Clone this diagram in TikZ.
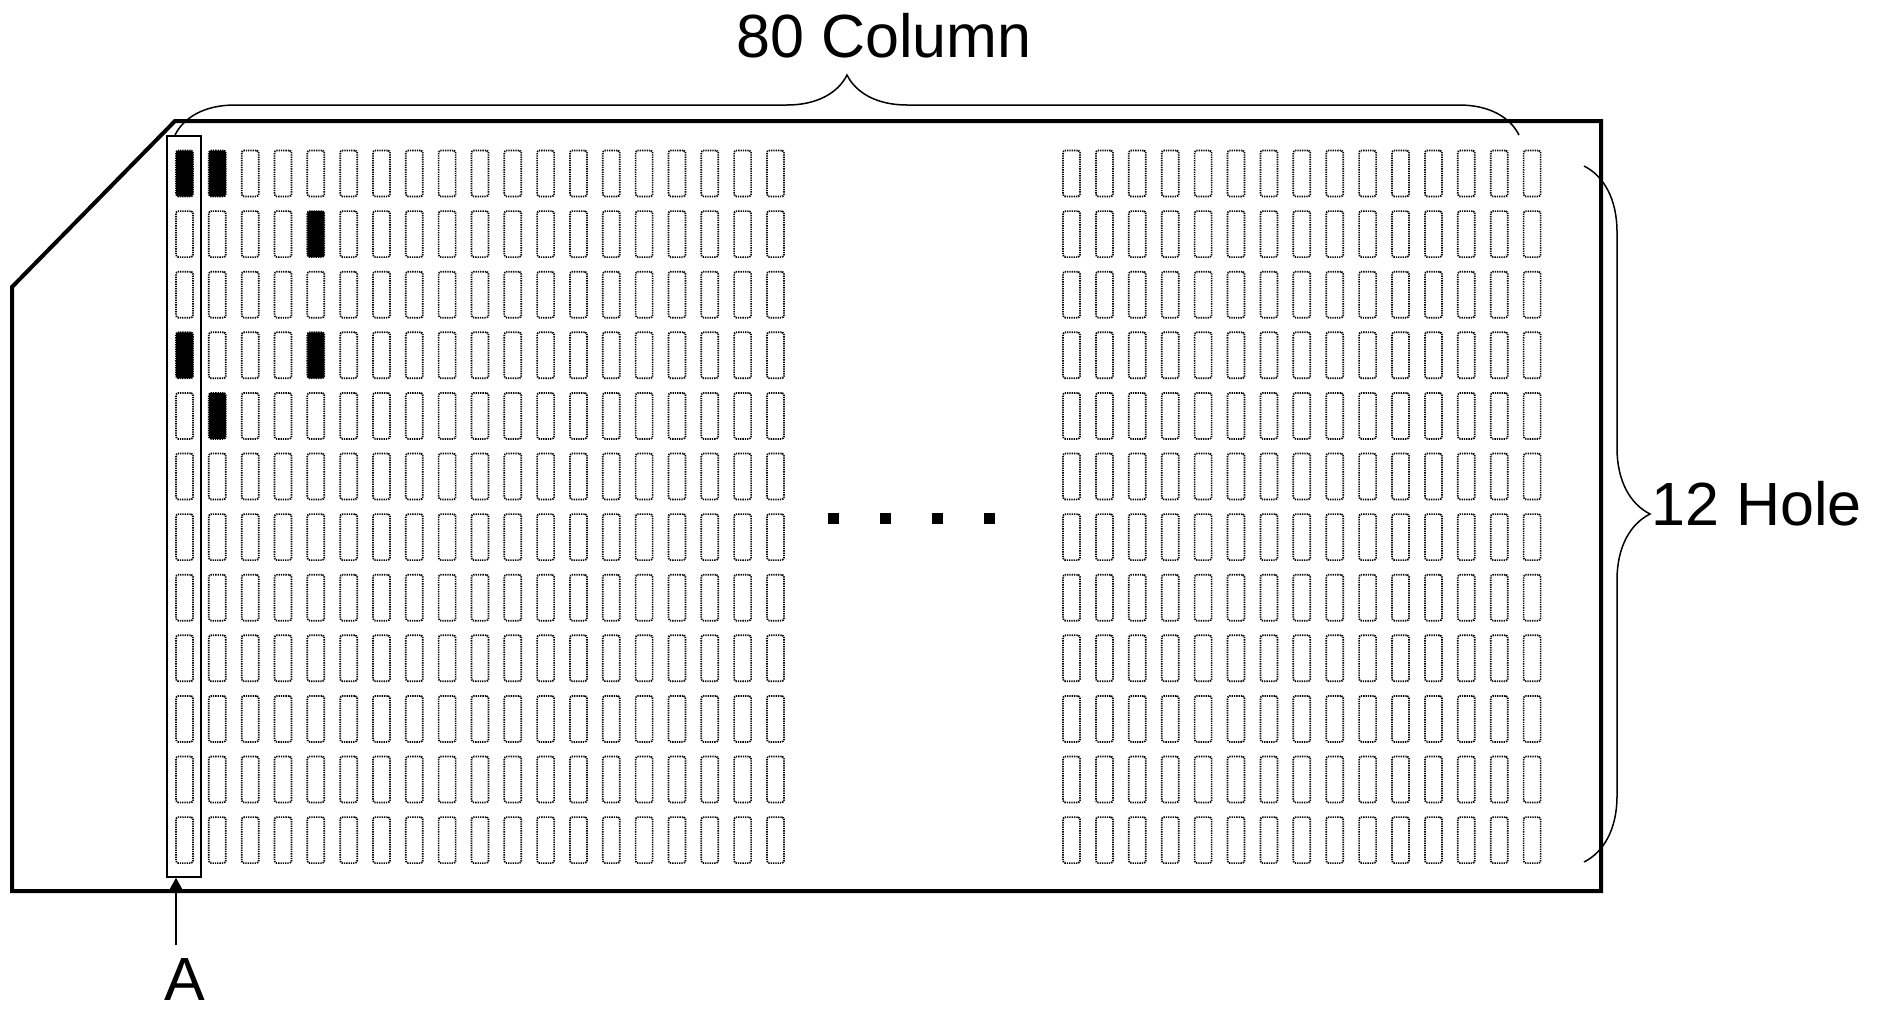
\documentclass[tikz,border=0pt]{standalone}
\usepackage{fontspec}
\setmainfont{Liberation Sans}
\usetikzlibrary{decorations.pathreplacing,arrows.meta}
\begin{document}
\begin{tikzpicture}[x=0.5pt,y=-0.5pt,
  hole/.style={draw, line width=0.85pt, dash pattern=on 0.65pt off 0.5pt, rounded corners=1.2pt,
    minimum width=8.5pt, minimum height=23pt, inner sep=0pt, outer sep=0pt},
  punched/.style={hole, fill=black},
  cardline/.style={line width=2pt, line join=miter},
  bracestyle/.style={decorate, line width=0.75pt},
  lbl/.style={inner sep=0pt, font=\fontsize{30.5}{36}\selectfont},
  dotbox/.style={fill=black, minimum size=5.5pt, inner sep=0pt, outer sep=0pt},
  colbox/.style={draw, line width=0.8pt, inner sep=0pt, minimum width=17pt, minimum height=370.5pt},
  pointer/.style={line width=0.65pt, -{Triangle[width=6.5pt,length=6pt]}}]
\useasboundingbox (0,0) rectangle (1879,1013);
% card outline
\draw[cardline] (175,121) -- (1601,121) -- (1601,891) -- (12,891) -- (12,287) -- cycle;
% punched positions
\expandafter\def\csname punch@0-0\endcsname{}
\expandafter\def\csname punch@0-3\endcsname{}
\expandafter\def\csname punch@1-0\endcsname{}
\expandafter\def\csname punch@1-4\endcsname{}
\expandafter\def\csname punch@4-1\endcsname{}
\expandafter\def\csname punch@4-3\endcsname{}
% left group of holes
\foreach \col in {0,...,18} {
  \foreach \row in {0,...,11} {
    \ifcsname punch@\col-\row\endcsname
      \node[punched] (h-\col-\row) at ({184.5+32.83*\col},{173.5+60.6*\row}) {};
    \else
      \node[hole] (h-\col-\row) at ({184.5+32.83*\col},{173.5+60.6*\row}) {};
    \fi
  }
}
% right group of holes
\foreach \col in {0,...,14} {
  \foreach \row in {0,...,11} {
    \node[hole] (r-\col-\row) at ({1071.5+32.9*\col},{173.5+60.6*\row}) {};
  }
}
% dots
\node[dotbox] (d1) at (833.5,518) {};
\node[dotbox] (d2) at (885.5,518) {};
\node[dotbox] (d3) at (937.5,518) {};
\node[dotbox] (d4) at (989.5,518) {};
% column A box
\node[colbox] (colA) at (184,506.5) {};
\coordinate (atail) at (176,945);
\draw[pointer] (atail) -- (atail |- colA.south);
\node[lbl, anchor=base west] (labA) at (164,1000) {A};
% braces
\coordinate (tb1) at (175,135);
\coordinate (tb2) at (1519,135);
\draw[bracestyle, decoration={brace, amplitude=30pt}] (tb1) -- (tb2);
\coordinate (rb1) at (1584,166);
\coordinate (rb2) at (1584,862);
\draw[bracestyle, decoration={brace, amplitude=33pt}] (rb1) -- (rb2);
\node[lbl, anchor=base west] (lab80) at (736,57) {80 Column};
\node[lbl, anchor=base west] (lab12) at (1651,525) {12 Hole};
\end{tikzpicture}
\end{document}
